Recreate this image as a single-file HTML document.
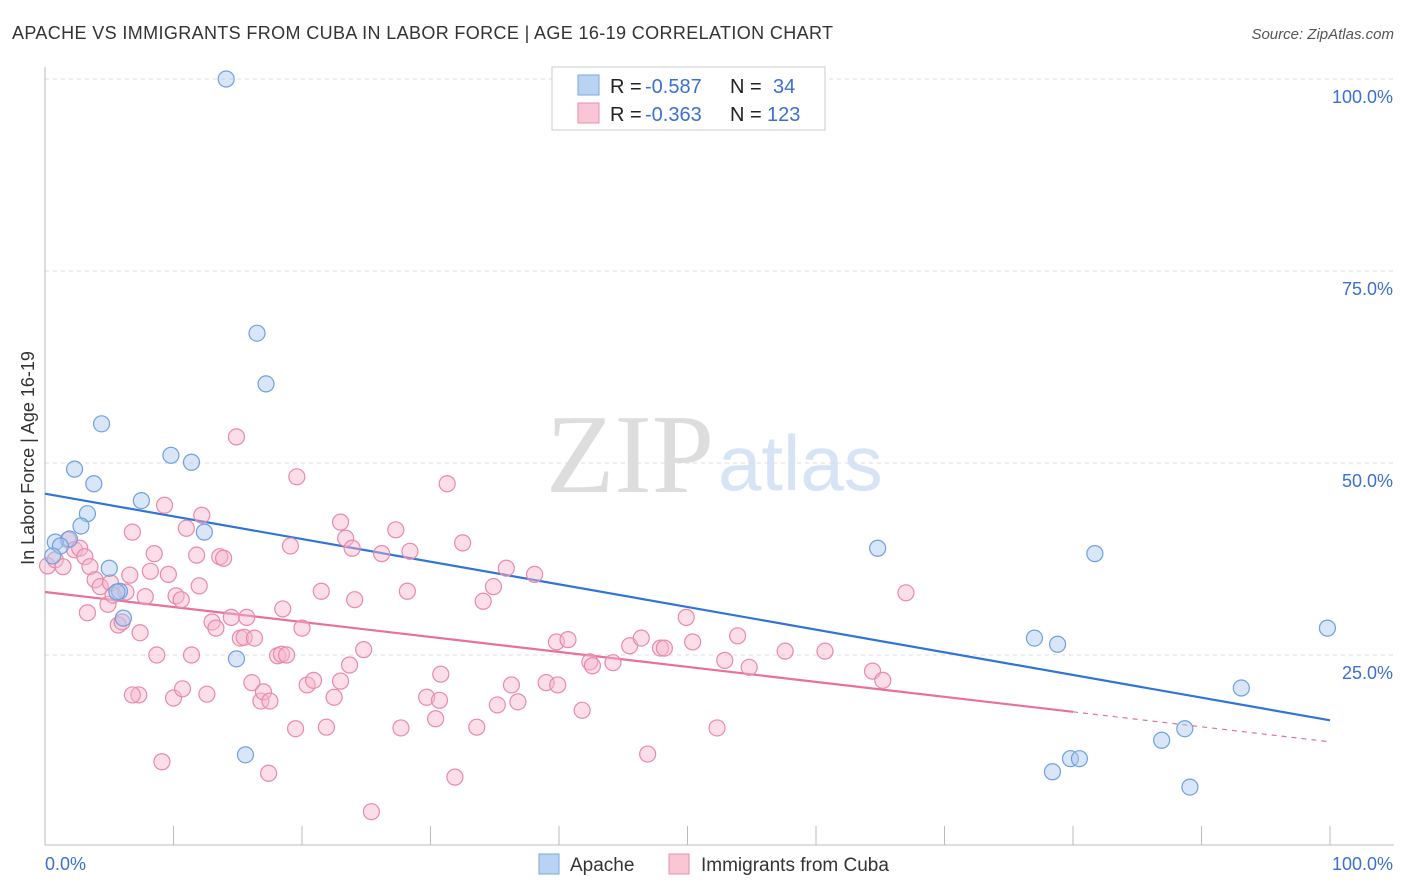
<!DOCTYPE html>
<html><head><meta charset="utf-8"><style>
body{margin:0;background:#fff;font-family:"Liberation Sans",sans-serif;}
svg{display:block}
</style></head><body>
<svg id="chart" width="1406" height="892">
<text x="12" y="39" font-size="18" textLength="821" fill="#333">APACHE VS IMMIGRANTS FROM CUBA IN LABOR FORCE | AGE 16-19 CORRELATION CHART</text>
<text x="1394" y="39" font-size="15" fill="#555" font-style="italic" text-anchor="end">Source: ZipAtlas.com</text>
<text x="714" y="492" font-size="112" fill="#ddd" font-family="Liberation Serif,serif" text-anchor="end">ZIP</text>
<text x="718" y="490" font-size="78" fill="#d6e4f5">atlas</text>
<text transform="translate(34,458) rotate(-90)" font-size="18" fill="#333" text-anchor="middle">In Labor Force | Age 16-19</text>
<g id="grid"></g><g id="axes"></g><g id="lines"></g><g id="pts"></g>
<rect x="552" y="67" width="273" height="63" fill="#fff" stroke="#ccc"/>
<rect x="578" y="75" width="21" height="20" fill="#b9d3f3" stroke="#7aa7e0"/>
<rect x="578" y="103" width="21" height="20" fill="#f9c6d6" stroke="#e98fad"/>
<g font-size="20">
<text x="610" y="93" fill="#222">R =</text><text x="645" y="93" fill="#3b6fd1">-0.587</text>
<text x="730" y="93" fill="#222">N =</text><text x="773" y="93" fill="#3b6fd1">34</text>
<text x="610" y="121" fill="#222">R =</text><text x="645" y="121" fill="#3b6fd1">-0.363</text>
<text x="730" y="121" fill="#222">N =</text><text x="767" y="121" fill="#3b6fd1">123</text>
</g>
<rect x="539" y="854" width="20" height="20" fill="#b9d3f3" stroke="#7aa7e0"/>
<text x="570" y="871" font-size="19" fill="#333">Apache</text>
<rect x="669" y="854" width="20" height="20" fill="#f9c6d6" stroke="#e98fad"/>
<text x="701" y="871" font-size="19" fill="#333">Immigrants from Cuba</text>
</svg>
<script>
const yTicks=[100,75,50,25];
const yTickLabels=["100.0%","75.0%","50.0%","25.0%"];
const apacheX=[14.1,16.5,17.2,4.4,2.3,9.8,11.4,3.8,7.5,3.3,2.8,12.4,1.9,0.8,1.2,0.6,5.0,5.8,5.6,6.1,14.9,15.6,64.8,81.7,77.0,78.8,99.8,93.1,88.7,86.9,79.8,80.5,78.4,89.1];
const apacheY=[100,66.9,60.3,55.1,49.2,51.0,50.1,47.3,45.1,43.4,41.8,41.0,40.1,39.7,39.2,37.9,36.3,33.3,33.2,29.8,24.5,12.0,38.9,38.2,27.2,26.4,28.5,20.7,15.4,13.9,11.5,11.5,9.8,7.8];
const cubaX=[0.2,0.8,1.4,1.8,2.3,2.7,3.1,3.5,3.9,4.3,3.3,4.9,5.1,5.3,5.7,6.0,6.3,6.6,6.8,7.4,7.3,8.2,7.8,8.5,8.7,9.1,9.3,9.6,10.0,10.2,10.6,10.7,11.0,11.4,11.8,12.0,12.2,12.6,13.0,13.3,13.6,13.9,14.5,14.9,15.2,15.5,15.7,16.1,16.3,16.8,17.0,17.4,17.5,18.1,18.4,18.8,18.5,19.1,19.6,20.0,20.4,20.9,21.5,19.5,21.9,22.5,23.0,23.4,23.7,23.0,23.9,24.1,24.8,25.4,26.2,27.3,27.7,28.4,28.2,29.7,30.4,30.7,30.8,31.3,31.9,32.5,33.6,34.1,34.9,35.2,35.9,36.3,36.8,38.1,39.0,39.8,39.9,40.7,41.8,42.4,42.6,44.2,45.5,46.4,46.9,47.9,48.2,49.9,50.4,52.3,52.9,53.9,54.8,57.6,60.7,64.4,65.2,67.0,6.8];
const cubaY=[36.6,37.4,36.5,40.0,38.7,38.9,37.8,36.5,34.8,33.9,30.5,31.6,34.4,32.8,28.9,29.3,33.2,35.4,41.0,27.9,19.8,35.9,32.6,38.2,25.0,11.1,44.5,35.5,19.4,32.7,32.2,20.6,41.5,25.0,38.0,34.0,43.2,19.9,29.3,28.5,37.8,37.6,29.9,53.4,27.2,27.3,29.9,21.4,27.2,19.0,20.2,9.6,19.0,24.9,25.1,25.0,31.0,39.2,48.2,28.5,21.1,21.7,33.3,15.4,15.6,19.5,42.3,40.2,23.7,21.6,38.9,32.2,25.7,4.6,38.2,41.3,15.5,38.5,33.3,19.5,16.7,19.1,22.5,47.3,9.1,39.6,15.6,32.0,33.9,18.5,36.3,21.1,18.9,35.5,21.4,26.7,21.1,27.0,17.8,24.1,23.6,24.0,26.2,27.2,12.1,25.9,25.9,29.9,26.7,15.5,24.3,27.5,23.4,25.5,25.5,22.9,21.7,33.1,19.8];
const apacheTrend=[46.0,16.5];
const cubaTrend=[33.2,13.7];
const NS="http://www.w3.org/2000/svg";
const X=v=>45+v*12.85, Y=v=>847-v*7.68;
function mk(t,a,p){const e=document.createElementNS(NS,t);for(const k in a)e.setAttribute(k,a[k]);document.getElementById(p).appendChild(e);return e;}
yTicks.forEach((t,i)=>{
 const l=mk('line',{x1:45,x2:1394,y1:Y(t),y2:Y(t),stroke:'#ddd','stroke-dasharray':'4,4'},'grid');
 
 
 const tx=mk('text',{x:1393,y:Y(t)+24,'font-size':18,fill:'#3b6fd1','text-anchor':'end'},'grid');
 tx.textContent=yTickLabels[i];
 
 
});
let a=mk('line',{x1:45,x2:1394,y1:845,y2:845,stroke:'#bbb'},'axes');


a=mk('line',{x1:45,x2:45,y1:67,y2:845,stroke:'#bbb'},'axes');


for(let i=0;i<=10;i++){const t=mk('line',{x1:X(i*10),x2:X(i*10),y1:826,y2:845,stroke:'#bbb'},'axes');
 
 }
let xl=mk('text',{x:45,y:870,'font-size':18,fill:'#3b6fd1'},'axes');xl.textContent='0.0%';


xl=mk('text',{x:1393,y:870,'font-size':18,fill:'#3b6fd1','text-anchor':'end'},'axes');xl.textContent='100.0%';


function dot(x,y,f,s,n){const c=mk('circle',{cx:X(x),cy:Y(y),r:8,fill:f,'fill-opacity':0.45,stroke:s,'stroke-width':1.2},'pts');
 
 }
cubaX.forEach((x,i)=>dot(x,cubaY[i],'#f7b6cb','#e88aa8','cuba-point'));
apacheX.forEach((x,i)=>dot(x,apacheY[i],'#a9c8f0','#6fa0e0','apache-point'));
let ln=mk('line',{x1:X(0),y1:Y(apacheTrend[0]),x2:X(100),y2:Y(apacheTrend[1]),stroke:'#2f74d8','stroke-width':2.2},'lines');


const cy80=cubaTrend[0]+(cubaTrend[1]-cubaTrend[0])*0.8;
ln=mk('line',{x1:X(0),y1:Y(cubaTrend[0]),x2:X(80),y2:Y(cy80),stroke:'#e8709a','stroke-width':2.2},'lines');


ln=mk('line',{x1:X(80),y1:Y(cy80),x2:X(100),y2:Y(cubaTrend[1]),stroke:'#e8709a','stroke-width':1.2,'stroke-dasharray':'5,5'},'lines');


</script>
</body></html>
